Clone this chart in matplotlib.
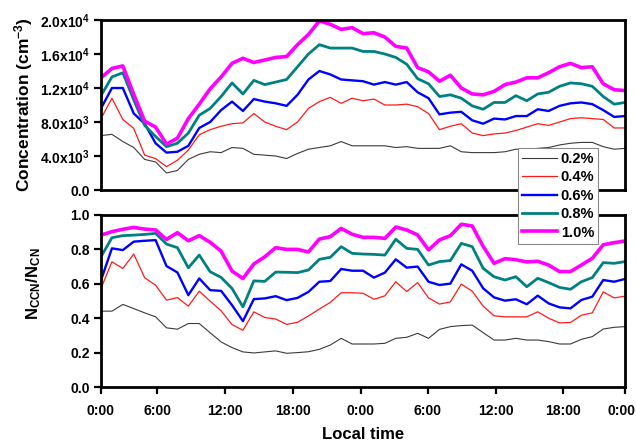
import numpy as np
import matplotlib.pyplot as plt
from matplotlib.transforms import ScaledTranslation

plt.rcParams['font.family'] = 'Liberation Sans'
plt.rcParams['font.weight'] = 'bold'
plt.rcParams['mathtext.fontset'] = 'custom'
plt.rcParams['mathtext.rm'] = 'Liberation Sans:bold'
plt.rcParams['mathtext.bf'] = 'Liberation Sans:bold'
plt.rcParams['mathtext.it'] = 'Liberation Sans:bold'

# CCN number concentration, units of 1000 cm^-3 (hourly points over two days)
conc_02 = [6.4, 6.55, 5.7, 5.0, 3.6, 3.3, 2.0, 2.3, 3.6, 4.2,
           4.5, 4.4, 5.0, 4.9, 4.2, 4.1, 4.0, 3.7, 4.3, 4.8,
           5.0, 5.2, 5.7, 5.2, 5.2, 5.2, 5.2, 5.0, 5.1, 4.9,
           4.9, 4.9, 5.2, 4.5, 4.4, 4.4, 4.4, 4.5, 4.8, 4.8,
           4.9, 5.0, 5.3, 5.5, 5.6, 5.6, 5.1, 4.8, 4.9]
conc_04 = [8.4, 10.8, 8.3, 7.25, 4.1, 3.7, 2.75, 3.5, 4.7, 6.5,
           7.1, 7.5, 7.8, 7.9, 9.0, 8.0, 7.5, 7.1, 8.0, 9.6,
           10.4, 10.9, 10.2, 10.8, 10.5, 10.7, 10.0, 10.0, 10.1, 9.8,
           9.0, 7.1, 7.5, 7.8, 6.7, 6.4, 6.6, 6.7, 7.0, 7.4,
           7.8, 7.6, 8.0, 8.4, 8.5, 8.4, 8.3, 7.3, 7.3]
conc_06 = [9.6, 12.0, 12.0, 9.0, 7.8, 5.5, 4.4, 4.5, 5.2, 7.3,
           8.0, 9.4, 10.4, 9.3, 10.7, 10.4, 10.2, 9.9, 11.2, 13.0,
           14.0, 13.6, 13.0, 12.9, 12.8, 12.4, 12.7, 12.4, 12.7, 11.5,
           10.8, 8.9, 9.1, 9.2, 8.2, 7.8, 8.4, 8.3, 8.7, 8.7,
           9.5, 9.3, 9.9, 10.2, 10.3, 10.1, 9.4, 8.6, 8.7]
conc_08 = [11.1, 13.3, 13.8, 10.6, 7.6, 6.3, 5.1, 5.5, 6.7, 8.8,
           9.6, 11.0, 12.6, 11.3, 12.9, 12.4, 12.7, 13.0, 14.5, 16.0,
           17.1, 16.7, 16.7, 16.7, 16.3, 16.3, 16.0, 15.6, 14.8, 13.1,
           12.5, 11.0, 11.2, 10.8, 9.9, 9.5, 10.3, 10.3, 11.1, 10.5,
           11.3, 11.5, 12.2, 12.6, 12.5, 12.2, 11.0, 10.1, 10.3]
conc_10 = [13.2, 14.3, 14.6, 11.25, 8.1, 7.4, 5.4, 6.1, 8.4, 10.1,
           11.9, 13.3, 14.9, 15.5, 15.0, 15.3, 15.6, 15.7, 17.1, 18.3,
           19.9, 19.5, 18.9, 19.1, 18.4, 18.5, 18.0, 16.9, 16.7, 14.4,
           13.9, 12.8, 13.5, 12.0, 11.3, 11.2, 11.6, 12.4, 12.7, 13.2,
           13.2, 13.8, 14.5, 14.9, 14.4, 14.5, 12.5, 11.8, 11.7]

# activation ratio NCCN/NCN
ratio_02 = [0.441, 0.441, 0.480, 0.456, 0.431, 0.408, 0.344, 0.336, 0.369, 0.369,
            0.315, 0.262, 0.229, 0.204, 0.198, 0.204, 0.210, 0.196, 0.200, 0.205,
            0.219, 0.244, 0.283, 0.250, 0.250, 0.250, 0.254, 0.283, 0.289, 0.312,
            0.283, 0.335, 0.351, 0.357, 0.360, 0.316, 0.273, 0.273, 0.283, 0.273,
            0.273, 0.264, 0.250, 0.250, 0.277, 0.293, 0.337, 0.347, 0.351]
ratio_04 = [0.573, 0.728, 0.689, 0.773, 0.635, 0.592, 0.505, 0.520, 0.470, 0.557,
            0.499, 0.443, 0.363, 0.330, 0.437, 0.404, 0.395, 0.364, 0.376, 0.413,
            0.453, 0.492, 0.548, 0.548, 0.545, 0.510, 0.530, 0.612, 0.555, 0.607,
            0.518, 0.482, 0.495, 0.598, 0.557, 0.470, 0.414, 0.408, 0.408, 0.408,
            0.437, 0.400, 0.373, 0.375, 0.417, 0.431, 0.553, 0.518, 0.528]
ratio_06 = [0.621, 0.806, 0.796, 0.845, 0.850, 0.854, 0.703, 0.666, 0.534, 0.631,
            0.563, 0.559, 0.476, 0.383, 0.511, 0.515, 0.528, 0.505, 0.518, 0.553,
            0.612, 0.616, 0.686, 0.676, 0.676, 0.636, 0.665, 0.742, 0.694, 0.700,
            0.612, 0.593, 0.601, 0.713, 0.676, 0.574, 0.521, 0.502, 0.510, 0.481,
            0.531, 0.486, 0.463, 0.457, 0.506, 0.525, 0.622, 0.612, 0.628]
ratio_08 = [0.757, 0.868, 0.880, 0.883, 0.887, 0.893, 0.831, 0.810, 0.693, 0.767,
            0.670, 0.637, 0.573, 0.466, 0.617, 0.614, 0.668, 0.667, 0.665, 0.680,
            0.742, 0.754, 0.816, 0.777, 0.773, 0.771, 0.767, 0.859, 0.806, 0.800,
            0.709, 0.729, 0.735, 0.835, 0.816, 0.690, 0.641, 0.622, 0.641, 0.583,
            0.632, 0.607, 0.579, 0.568, 0.612, 0.636, 0.723, 0.719, 0.729]
ratio_10 = [0.883, 0.903, 0.917, 0.928, 0.918, 0.913, 0.858, 0.897, 0.850, 0.880,
            0.841, 0.790, 0.674, 0.631, 0.715, 0.757, 0.810, 0.800, 0.800, 0.785,
            0.860, 0.874, 0.922, 0.888, 0.870, 0.870, 0.864, 0.930, 0.913, 0.884,
            0.797, 0.855, 0.880, 0.946, 0.936, 0.818, 0.719, 0.746, 0.740, 0.727,
            0.731, 0.709, 0.671, 0.671, 0.709, 0.748, 0.827, 0.839, 0.849]

labels = ['0.2%', '0.4%', '0.6%', '0.8%', '1.0%']
colors = ['#3a3a3a', '#ff1a1a', '#0000ff', '#008080', '#ff00ff']
widths = [0.8, 0.9, 1.7, 2.0, 2.6]

tick_pos = [0, 5.13, 11.36, 17.59, 23.79, 29.95, 36.15, 42.35, 48]
tick_lab = ['0:00', '6:00', '12:00', '18:00', '0:00', '6:00', '12:00', '18:00', '0:00']
conc_ticks = [0, 4, 8, 12, 16, 20]
conc_tick_lab = ['0.0', r'$4.0x10^3$', r'$8.0x10^3$', r'$1.2x10^4$', r'$1.6x10^4$', r'$2.0x10^4$']

x = np.arange(len(conc_02))

fig = plt.figure(figsize=(6.36, 4.43), dpi=100)
ax1 = fig.add_axes([0.1588, 0.5711, 0.824, 0.3837])
ax2 = fig.add_axes([0.1588, 0.1264, 0.824, 0.3883])

conc = [conc_02, conc_04, conc_06, conc_08, conc_10]
ratio = [ratio_02, ratio_04, ratio_06, ratio_08, ratio_10]
handles = []
for i in range(5):
    h, = ax1.plot(x, conc[i], color=colors[i], lw=widths[i], label=labels[i])
    ax2.plot(x, ratio[i], color=colors[i], lw=widths[i])
    handles.append(h)

for ax in (ax1, ax2):
    ax.set_xlim(0, 48)
    for s in ax.spines.values():
        s.set_linewidth(2.0)
    ax.tick_params(width=1.6, length=5, labelsize=10, pad=3)

ax1.set_ylim(0, 20)
ax1.set_yticks(conc_ticks)
ax1.set_yticklabels(conc_tick_lab)
ax1.set_xticks([])
ax1.set_ylabel(r'Concentration (cm$^{-3}$)', fontsize=12.5, fontweight='bold')
ax1.yaxis.set_label_coords(-0.125, 0.5)

ax2.set_ylim(0, 1.0)
ax2.set_yticks([0, 0.2, 0.4, 0.6, 0.8, 1.0])
ax2.set_yticklabels(['0.0', '0.2', '0.4', '0.6', '0.8', '1.0'])
ax2.set_xticks(tick_pos)
ax2.set_xticklabels(tick_lab)
ax2.tick_params(axis='x', pad=7)
ax2.set_ylabel(r'N$_{CCN}$/N$_{CN}$', fontsize=12, fontweight='bold')
ax2.yaxis.set_label_coords(-0.11, 0.6)
ax2.set_xlabel('Local time', fontsize=12, fontweight='bold', labelpad=6.5)

# last label sits a little left of its tick, as in the original
last = ax2.get_xticklabels()[-1]
last.set_transform(last.get_transform() + ScaledTranslation(-4 / 100, 0, fig.dpi_scale_trans))

leg = fig.legend(handles, labels, loc='upper left', bbox_to_anchor=(0.8145, 0.666),
                 fontsize=10.5, handlelength=2.4, handletextpad=0.25, labelspacing=0.3,
                 borderpad=0.28, borderaxespad=0, fancybox=False, framealpha=1,
                 edgecolor='#888888')
leg.get_frame().set_linewidth(0.8)

fig.savefig('out.png', dpi=100)
